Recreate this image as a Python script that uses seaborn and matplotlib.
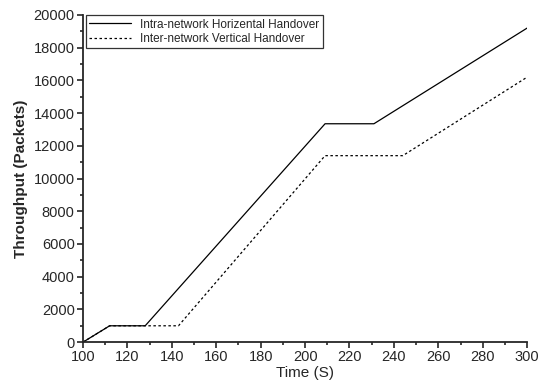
import matplotlib
matplotlib.use('Agg')

import matplotlib.pyplot as plt
import seaborn as sns
import pandas as pd
from matplotlib.ticker import MultipleLocator

# data
time_intra = [100, 112, 128, 209, 231, 300]
thr_intra = [0, 1000, 1000, 13350, 13350, 19200]
time_inter = [100, 112, 143, 209, 244, 300]
thr_inter = [0, 1000, 1000, 11400, 11400, 16200]
labels = ['Intra-network Horizental Handover', 'Inter-network Vertical Handover']

df = pd.concat([
    pd.DataFrame({'time': time_intra, 'thr': thr_intra, 'series': labels[0]}),
    pd.DataFrame({'time': time_inter, 'thr': thr_inter, 'series': labels[1]}),
])

sns.set_style('ticks')
plt.rcParams['font.family'] = ['Liberation Sans', 'DejaVu Sans']

fig = plt.figure(figsize=(5.39, 3.84), dpi=100)
ax = fig.add_axes([0.154, 0.109, 0.824, 0.852])

sns.lineplot(data=df, x='time', y='thr', hue='series', style='series',
             palette=['black', 'black'], dashes=[(None, None), (2, 2)],
             linewidth=0.9, ax=ax, sort=False)

ax.set_xlim(100, 300)
ax.set_ylim(0, 20000)
ax.xaxis.set_major_locator(MultipleLocator(20))
ax.xaxis.set_minor_locator(MultipleLocator(10))
ax.yaxis.set_major_locator(MultipleLocator(2000))
ax.yaxis.set_minor_locator(MultipleLocator(1000))
ax.tick_params(which='major', direction='out', length=4, width=1.2, labelsize=10.5, pad=2)
ax.tick_params(which='minor', direction='out', length=2.5, width=1.2)
for s in ['left', 'bottom']:
    ax.spines[s].set_linewidth(1.3)
sns.despine(ax=ax)

ax.set_xlabel('Time (S)', fontsize=11, labelpad=1)
ax.set_ylabel('Throughput (Packets)', fontsize=11, fontweight='bold', labelpad=4)

leg = ax.legend(loc='upper left', fontsize=8.5, frameon=True, fancybox=False,
                edgecolor='black', handlelength=3.5, borderpad=0.3,
                labelspacing=0.2, bbox_to_anchor=(0.006, 1.0), borderaxespad=0)
leg.get_frame().set_linewidth(0.9)
leg.set_title(None)

fig.savefig('out.png', dpi=100)
